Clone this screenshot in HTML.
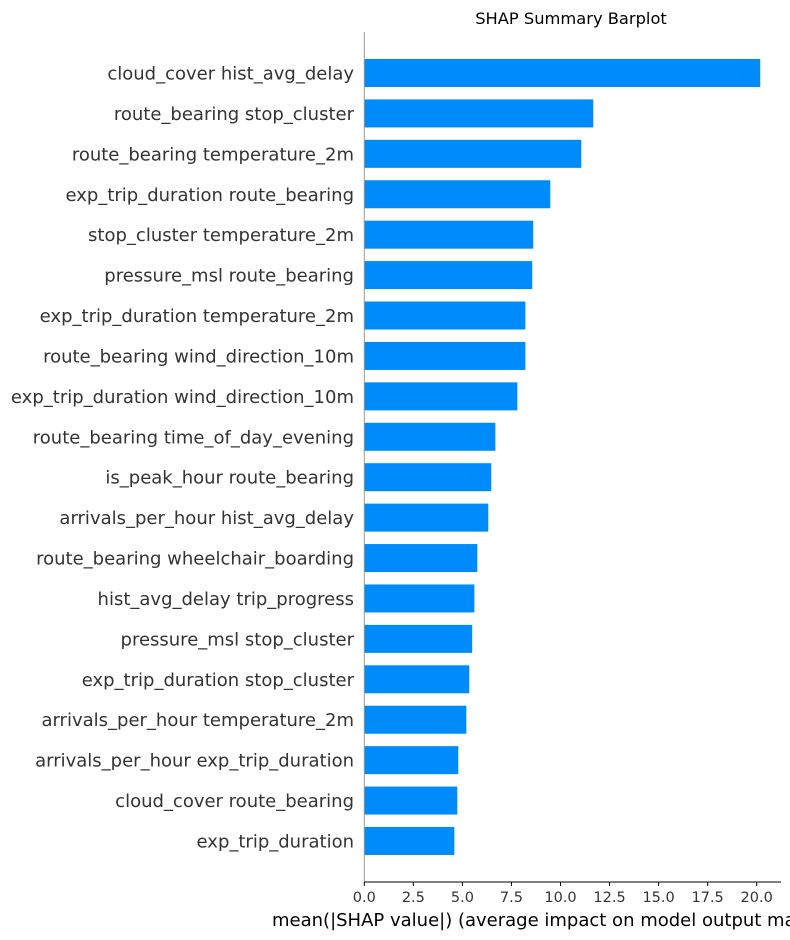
<!DOCTYPE html>
<html><head><meta charset="utf-8"><style>
body{margin:0;background:#fff;}
svg{display:block;font-family:"DejaVu Sans","Liberation Sans",sans-serif;}
</style></head><body>
<svg id="chart" width="790" height="940"></svg>
<script>
const features=["cloud_cover hist_avg_delay","route_bearing stop_cluster","route_bearing temperature_2m","exp_trip_duration route_bearing","stop_cluster temperature_2m","pressure_msl route_bearing","exp_trip_duration temperature_2m","route_bearing wind_direction_10m","exp_trip_duration wind_direction_10m","route_bearing time_of_day_evening","is_peak_hour route_bearing","arrivals_per_hour hist_avg_delay","route_bearing wheelchair_boarding","hist_avg_delay trip_progress","pressure_msl stop_cluster","exp_trip_duration stop_cluster","arrivals_per_hour temperature_2m","arrivals_per_hour exp_trip_duration","cloud_cover route_bearing","exp_trip_duration"];
const values=[20.18,11.67,11.06,9.48,8.61,8.56,8.21,8.21,7.80,6.68,6.47,6.32,5.76,5.61,5.50,5.35,5.20,4.79,4.74,4.59];
const ticks=[0,2.5,5,7.5,10,12.5,15,17.5,20];
const tickLabels=["0.0","2.5","5.0","7.5","10.0","12.5","15.0","17.5","20.0"];
const NS="http://www.w3.org/2000/svg";
const svg=document.getElementById('chart');
const X0=364.3,PX=19.62,Y0=73,STEP=40.42,BH=28;
const x=v=>X0+v*PX, y=i=>Y0+i*STEP;
function mk(t,a,p){const e=document.createElementNS(NS,t);for(const k in a)e.setAttribute(k,a[k]);(p||svg).appendChild(e);return e;}
let t=mk('text',{x:571,y:24,'font-size':16.3,fill:'#000','text-anchor':'middle'});t.textContent="SHAP Summary Barplot";


features.forEach((f,i)=>{
  const r=mk('rect',{x:X0,y:y(i)-BH/2,width:x(values[i])-X0,height:BH,fill:'#008bfb'});
  
  
  const l=mk('text',{x:354,y:y(i)+6.5,'font-size':18,fill:'#333','text-anchor':'end'});l.textContent=f;
  
  
});
const ls=mk('line',{x1:X0,y1:32,x2:X0,y2:882,stroke:'#999',"stroke-width":1});


const bs=mk('line',{x1:X0,y1:882,x2:781,y2:882,stroke:'#000',"stroke-width":1});


ticks.forEach((v,i)=>{
  const tk=mk('line',{x1:x(v),y1:882,x2:x(v),y2:886,stroke:'#000'});
  
  
  const tl=mk('text',{x:x(v),y:902,'font-size':14.5,fill:'#333','text-anchor':'middle'});tl.textContent=tickLabels[i];
  
  
});
const xl=mk('text',{x:272,y:926,'font-size':18,fill:'#000'});xl.textContent="mean(|SHAP value|) (average impact on model output magnitude)";


</script>
</body></html>
